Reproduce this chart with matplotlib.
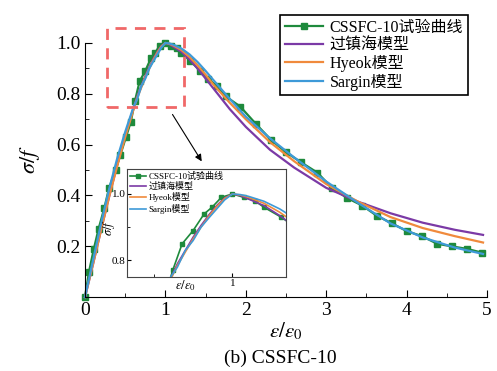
import matplotlib
matplotlib.use("Agg")
import matplotlib.pyplot as plt
from matplotlib.patches import Rectangle
from matplotlib.ticker import MultipleLocator

plt.rcParams['font.family'] = ['Liberation Serif', 'Noto Sans CJK SC']
plt.rcParams['mathtext.fontset'] = 'stix'

exp_x = [0.0, 0.05, 0.11, 0.17, 0.24, 0.30, 0.38, 0.44, 0.51, 0.57, 0.62, 0.68, 0.75,
         0.82, 0.87, 0.93, 1.00, 1.07, 1.14, 1.20, 1.31, 1.43, 1.53, 1.64, 1.75, 1.93,
         2.13, 2.31, 2.50, 2.69, 2.89, 3.07, 3.26, 3.45, 3.63, 3.82, 4.00, 4.19, 4.38,
         4.56, 4.75, 4.94]
exp_y = [0.0, 0.10, 0.19, 0.27, 0.35, 0.43, 0.50, 0.56, 0.63, 0.69, 0.77, 0.85, 0.89,
         0.94, 0.96, 0.99, 1.00, 0.99, 0.98, 0.96, 0.93, 0.89, 0.86, 0.83, 0.79, 0.75,
         0.68, 0.62, 0.57, 0.53, 0.49, 0.43, 0.39, 0.36, 0.32, 0.29, 0.26, 0.24, 0.21,
         0.20, 0.19, 0.175]

# model curves
mod_x = [0.0, 0.1, 0.2, 0.3, 0.4, 0.5, 0.6, 0.65, 0.7, 0.75, 0.8, 0.85, 0.9, 0.95, 1.0,
         1.05, 1.1, 1.2, 1.3, 1.4, 1.5, 1.6, 1.8, 2.0, 2.3, 2.6, 3.0, 3.4, 3.8, 4.2,
         4.6, 4.95]
guo_y = [0.0, 0.13, 0.265, 0.395, 0.52, 0.635, 0.74, 0.79, 0.83, 0.87, 0.905, 0.937,
         0.965, 0.988, 1.0, 0.995, 0.985, 0.965, 0.935, 0.90, 0.86, 0.82, 0.74, 0.67,
         0.58, 0.51, 0.43, 0.375, 0.33, 0.293, 0.265, 0.245]
hyeok_y = [0.0, 0.13, 0.265, 0.395, 0.515, 0.63, 0.735, 0.785, 0.825, 0.865, 0.90,
           0.933, 0.962, 0.986, 1.0, 0.997, 0.99, 0.972, 0.945, 0.912, 0.875, 0.835,
           0.765, 0.70, 0.61, 0.535, 0.445, 0.375, 0.315, 0.272, 0.24, 0.215]
sargin_y = [0.0, 0.145, 0.29, 0.425, 0.545, 0.65, 0.745, 0.78, 0.83, 0.86, 0.90,
            0.928, 0.955, 0.982, 1.0, 0.998, 0.993, 0.978, 0.955, 0.925, 0.89, 0.853,
            0.78, 0.71, 0.625, 0.55, 0.455, 0.37, 0.29, 0.235, 0.195, 0.17]

labels = ['CSSFC-10试验曲线', '过镇海模型', 'Hyeok模型', 'Sargin模型']
c_exp, c_guo, c_hy, c_sa = '#1e8a3c', '#7b3aa6', '#f08a3c', '#3e9ad8'

fig = plt.figure(figsize=(4.97, 3.71), dpi=100)
ax = fig.add_axes([0.171, 0.199, 0.809, 0.740])


def draw(a, lw, ms, clip):
    a.plot(exp_x, exp_y, '-s', color=c_exp, lw=lw, ms=ms, label=labels[0], clip_on=clip)
    a.plot(mod_x, guo_y, color=c_guo, lw=lw, label=labels[1], clip_on=clip)
    a.plot(mod_x, hyeok_y, color=c_hy, lw=lw, label=labels[2], clip_on=clip)
    a.plot(mod_x, sargin_y, color=c_sa, lw=lw, label=labels[3], clip_on=clip)


draw(ax, 1.6, 4.5, False)
ax.set_xlim(0, 5)
ax.set_ylim(0, 1.08)
ax.spines['top'].set_visible(False)
ax.spines['right'].set_visible(False)
ax.spines['left'].set_bounds(0, 1.0)
ax.set_xticks([0, 1, 2, 3, 4, 5])
ax.set_yticks([0.2, 0.4, 0.6, 0.8, 1.0])
ax.set_yticklabels(['0.2', '0.4', '0.6', '0.8', '1.0'])
ax.xaxis.set_minor_locator(MultipleLocator(0.5))
ax.set_yticks([0.1, 0.3, 0.5, 0.7, 0.9], minor=True)
ax.tick_params(which='both', direction='in', labelsize=14)
ax.tick_params(which='major', length=5)
ax.tick_params(which='minor', length=3)
ax.set_xlabel(r'$\varepsilon/\varepsilon_0$', fontsize=15, labelpad=1)
ax.set_ylabel(r'$\sigma/f$', fontsize=16, labelpad=10)

ax.add_patch(Rectangle((0.27, 0.75), 0.96, 0.31, fill=False, ec='#f06868', lw=2,
                       ls=(0, (4, 3)), clip_on=False, zorder=5))
ax.annotate('', xy=(1.47, 0.525), xytext=(1.07, 0.728),
            arrowprops=dict(arrowstyle='-|>', color='black', lw=0.8, mutation_scale=10))

leg = fig.legend(*ax.get_legend_handles_labels(), loc='upper right',
                 bbox_to_anchor=(0.958, 0.981), fontsize=11.5, frameon=True,
                 fancybox=False, edgecolor='black', framealpha=1, labelspacing=0.1,
                 handlelength=2.4, borderpad=0.3, handletextpad=0.4)
leg.get_frame().set_linewidth(1.2)

fig.text(0.565, 0.022, '(b) CSSFC-10', ha='center', fontsize=14)

# inset
ai = fig.add_axes([0.2555, 0.253, 0.32, 0.2915])
draw(ai, 1.2, 2.5, True)
ai.set_xlim(0.33, 1.34)
ai.set_ylim(0.75, 1.075)
ai.set_xticks([1])
ai.set_xticks([0.5], minor=True)
ai.set_yticks([0.8, 1.0])
ai.set_yticklabels(['0.8', '1.0'])
ai.set_yticks([0.9], minor=True)
ai.tick_params(which='both', direction='in', labelsize=8, pad=1)
ai.tick_params(which='major', length=3)
ai.tick_params(which='minor', length=2)
ai.set_xlabel(r'$\varepsilon/\varepsilon_0$', fontsize=9)
ai.xaxis.set_label_coords(0.37, -0.01)
ai.set_ylabel(r'$\sigma/f$', fontsize=9)
ai.yaxis.set_label_coords(-0.06, 0.46)
for s in ai.spines.values():
    s.set_color('#444444')
ai.legend(loc='upper left', fontsize=6.5, frameon=False, labelspacing=0.15,
          handlelength=1.8, borderaxespad=0.2, handletextpad=0.3, borderpad=0.1)

fig.savefig('out.png', dpi=100)
